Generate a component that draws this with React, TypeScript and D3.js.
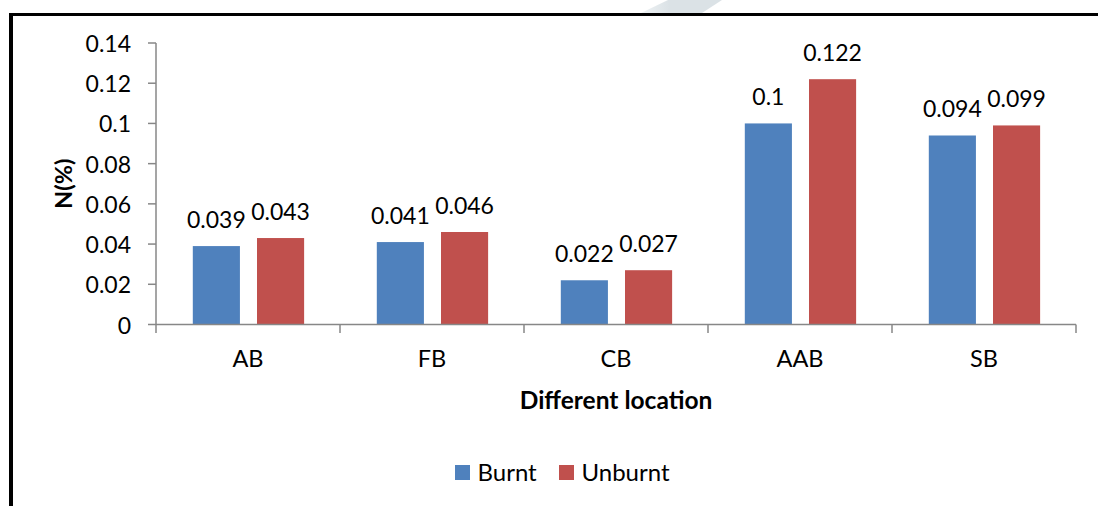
import React from "react";
import * as d3 from "d3";

// Nitrogen content by location, burnt vs unburnt
const categories: string[] = ["AB", "FB", "CB", "AAB", "SB"];
const seriesNames: string[] = ["Burnt", "Unburnt"];
const burnt: number[] = [0.039, 0.041, 0.022, 0.1, 0.094];
const unburnt: number[] = [0.043, 0.046, 0.027, 0.122, 0.099];
const yTicks: number[] = [0, 0.02, 0.04, 0.06, 0.08, 0.1, 0.12, 0.14];
const yTickLabels: string[] = ["0", "0.02", "0.04", "0.06", "0.08", "0.1", "0.12", "0.14"];
const valueLabels: string[][] = [
  ["0.039", "0.041", "0.022", "0.1", "0.094"],
  ["0.043", "0.046", "0.027", "0.122", "0.099"],
];

const W = 1098;
const H = 506;
const FONT = "Lato, 'Open Sans', sans-serif";
const COLORS = ["#4F81BD", "#C0504D"];
const AXIS = "#878787";

const plot = { left: 156, right: 1076, top: 43, bottom: 324.5 };

export default function App() {
  const seriesValues = [burnt, unburnt];

  const y = d3.scaleLinear().domain([0, 0.14]).range([plot.bottom, plot.top]);
  const x = d3.scaleBand<string>().domain(categories).range([plot.left, plot.right]).padding(0);
  const step = x.step();
  const inner = d3
    .scaleBand<string>()
    .domain(seriesNames)
    .range([step * 0.2, step * 0.805])
    .paddingInner(0.266)
    .paddingOuter(0);

  const boundaries = d3.range(categories.length + 1).map((i) => plot.left + i * step);
  const cx = (plot.left + plot.right) / 2;
  const cy = (plot.top + plot.bottom) / 2;

  return (
    <svg
      width={W}
      height={H}
      viewBox={`0 0 ${W} ${H}`}
      style={{ position: "absolute", left: 0, top: 0, display: "block", background: "#fff" }}
      fontFamily={FONT}
    >
      <defs>
        <linearGradient id="mark" x1="0" x2="1" y1="0" y2="0">
          <stop offset="0" stopColor="#eef2f4" />
          <stop offset="0.35" stopColor="#dbe2e6" />
          <stop offset="1" stopColor="#dbe2e6" />
        </linearGradient>
      </defs>

      {/* faint page ornament above the frame */}
      <polygon points="641,13 702,13 722,0 668,0" fill="url(#mark)" />

      {/* frame */}
      <line x1={11} x2={11} y1={13} y2={H} stroke="#000" strokeWidth={4} />
      <line x1={9} x2={W} y1={14.5} y2={14.5} stroke="#000" strokeWidth={3} />

      {/* bars */}
      {seriesNames.map((s, si) =>
        categories.map((c, ci) => {
          const v = seriesValues[si][ci];
          const x0 = (x(c) as number) + (inner(s) as number);
          const bw = inner.bandwidth();
          return (
            <g key={`${s}-${c}`}>
              <rect x={x0} y={y(v)} width={bw} height={y(0) - y(v)} fill={COLORS[si]} />
              <text
                x={x0 + bw / 2}
                y={y(v) - 18}
                textAnchor="middle"
                fontSize={23}
                fill="#000"
              >
                {valueLabels[si][ci]}
              </text>
            </g>
          );
        })
      )}

      {/* y axis */}
      <line x1={plot.left} x2={plot.left} y1={plot.top} y2={plot.bottom} stroke={AXIS} strokeWidth={1.5} />
      {yTicks.map((t, i) => (
        <g key={t}>
          <line x1={plot.left - 8} x2={plot.left} y1={y(t)} y2={y(t)} stroke={AXIS} strokeWidth={1.5} />
          <text
            x={131}
            y={y(t)}
            textAnchor="end"
            dominantBaseline="central"
            fontSize={23}
            fill="#000"
          >
            {yTickLabels[i]}
          </text>
        </g>
      ))}

      {/* x axis */}
      <line x1={plot.left} x2={plot.right} y1={plot.bottom} y2={plot.bottom} stroke={AXIS} strokeWidth={1.5} />
      {boundaries.map((bx, i) => (
        <line key={i} x1={bx} x2={bx} y1={plot.bottom} y2={plot.bottom + 8.5} stroke={AXIS} strokeWidth={1.5} />
      ))}
      {categories.map((c) => (
        <text
          key={c}
          x={(x(c) as number) + step / 2}
          y={367}
          textAnchor="middle"
          fontSize={23.5}
          fill="#000"
        >
          {c}
        </text>
      ))}

      {/* axis titles */}
      <text x={cx} y={409} textAnchor="middle" fontSize={24.5} fontWeight="bold" fill="#000">
        Different location
      </text>
      <text
        transform={`translate(72, ${cy}) rotate(-90)`}
        textAnchor="middle"
        fontSize={23.5}
        fontWeight="bold"
        fill="#000"
      >
        N(%)
      </text>

      {/* legend */}
      {seriesNames.map((s, i) => {
        const lx = [455, 559][i];
        return (
          <g key={s}>
            <rect x={lx} y={465} width={15} height={15} fill={COLORS[i]} />
            <text x={lx + 22.5} y={481} fontSize={24} fill="#000">
              {s}
            </text>
          </g>
        );
      })}
    </svg>
  );
}
